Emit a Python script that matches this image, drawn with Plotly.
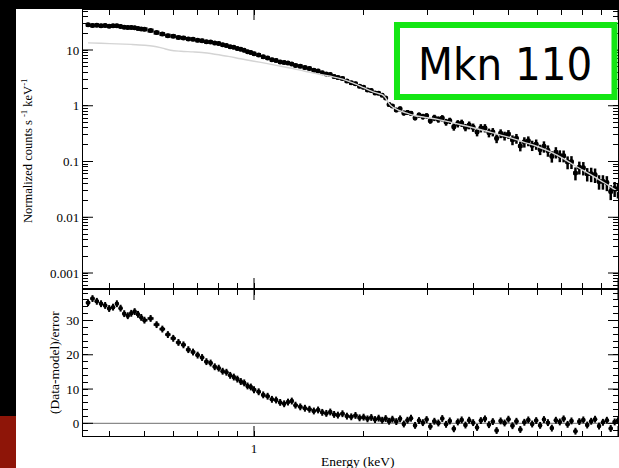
import numpy as np
import plotly.graph_objects as go

# Channel energies (keV) of the grouped spectrum
energy_kev = [0.35, 0.36, 0.37, 0.38, 0.39, 0.40, 0.41, 0.42, 0.43, 0.44, 0.45, 0.46, 0.47, 0.48, 0.49, 0.50,
              0.52, 0.54, 0.56, 0.58, 0.60, 0.62, 0.64, 0.66, 0.68, 0.70, 0.72, 0.74, 0.76, 0.78, 0.80, 0.82,
              0.84, 0.86, 0.88, 0.90, 0.92, 0.94, 0.96, 0.98, 1.00,
              1.03, 1.06, 1.09, 1.12, 1.15, 1.18, 1.21, 1.24, 1.27, 1.30,
              1.34, 1.38, 1.42, 1.46, 1.50, 1.54, 1.58, 1.62, 1.66, 1.70,
              1.75, 1.80, 1.85, 1.90, 1.95, 2.00, 2.05, 2.10, 2.15, 2.20, 2.25, 2.30, 2.35, 2.40,
              2.46, 2.52, 2.58, 2.64, 2.70,
              2.77, 2.84, 2.91, 2.98, 3.05,
              3.13, 3.21, 3.29, 3.37, 3.45,
              3.54, 3.63, 3.72, 3.81, 3.90,
              4.00, 4.10, 4.20, 4.31, 4.42, 4.53, 4.64, 4.76, 4.88, 5.00,
              5.13, 5.26, 5.39, 5.53, 5.67, 5.81, 5.96, 6.11, 6.26, 6.42, 6.58, 6.75, 6.92, 7.09,
              7.27, 7.45, 7.64, 7.83, 8.03, 8.23, 8.44, 8.65, 8.87, 9.09, 9.32, 9.55, 9.79, 10.0]

# Normalized counts s^-1 keV^-1
counts = [28.3, 27.6, 27.9, 27.2, 27.5, 26.8, 27.1, 27.2, 26.5, 25.7, 25.4, 25.4, 25.0, 24.3, 23.8, 23.5,
          22.3, 20.5, 19.3, 18.1, 17.7, 16.8, 16.5, 15.8, 15.6, 14.9, 14.7, 14.0, 13.9, 13.3, 13.1, 12.4,
          12.0, 11.4, 11.2, 10.6, 10.35, 9.85, 9.30, 9.05, 8.58,
          8.14, 7.55, 7.21, 6.70, 6.50, 6.12, 5.99, 5.83, 5.60, 5.28,
          5.12, 4.84, 4.68, 4.33, 4.22, 3.90, 3.70, 3.63, 3.35, 3.21,
          3.09, 2.77, 2.58, 2.49, 2.24, 2.14, 1.92, 1.87, 1.69, 1.68, 1.55, 1.38, 1.05, 0.99,
          0.84, 0.88, 0.74, 0.76, 0.73,
          0.61, 0.68, 0.64, 0.66, 0.54,
          0.61, 0.57, 0.60, 0.51, 0.54,
          0.42, 0.48, 0.49, 0.41, 0.45,
          0.41, 0.34, 0.40, 0.40, 0.33, 0.34, 0.26, 0.32, 0.29, 0.31,
          0.245, 0.26, 0.19, 0.225, 0.235, 0.195, 0.205, 0.165, 0.187, 0.158, 0.124, 0.147, 0.128, 0.127,
          0.098, 0.099, 0.062, 0.079, 0.077, 0.060, 0.060, 0.058, 0.044, 0.044, 0.042, 0.029, 0.033, 0.031]

# Fractional 1-sigma uncertainty of each channel
rel_err = [0.012, 0.012, 0.012, 0.012, 0.012, 0.012, 0.012, 0.012, 0.012, 0.012, 0.012, 0.012, 0.012, 0.012, 0.012, 0.012,
           0.015, 0.015, 0.015, 0.015, 0.015, 0.015, 0.015, 0.015, 0.015, 0.015, 0.018, 0.018, 0.018, 0.018, 0.018, 0.018,
           0.018, 0.018, 0.018, 0.018, 0.020, 0.020, 0.020, 0.020, 0.020,
           0.025, 0.025, 0.025, 0.025, 0.025, 0.025, 0.025, 0.025, 0.025, 0.025,
           0.030, 0.030, 0.030, 0.030, 0.032, 0.032, 0.034, 0.034, 0.035, 0.035,
           0.040, 0.040, 0.042, 0.042, 0.044, 0.045, 0.046, 0.047, 0.048, 0.048, 0.050, 0.050, 0.060, 0.070,
           0.09, 0.10, 0.10, 0.10, 0.10,
           0.11, 0.11, 0.12, 0.11, 0.12,
           0.13, 0.13, 0.13, 0.14, 0.13,
           0.15, 0.15, 0.15, 0.15, 0.16,
           0.17, 0.17, 0.17, 0.17, 0.18, 0.17, 0.18, 0.18, 0.18, 0.18,
           0.20, 0.20, 0.20, 0.21, 0.20, 0.21, 0.21, 0.21, 0.23, 0.23, 0.23, 0.23, 0.24, 0.24,
           0.26, 0.26, 0.26, 0.26, 0.27, 0.27, 0.29, 0.29, 0.29, 0.29, 0.30, 0.30, 0.30, 0.30]

# Best-fitting model curve
model_energy = [0.35, 0.38, 0.42, 0.46, 0.50, 0.53, 0.56, 0.59, 0.63, 0.68, 0.72, 0.78, 0.85, 0.92, 1.0,
                1.08, 1.17, 1.27, 1.38, 1.5, 1.62, 1.75, 1.88, 2.0, 2.1, 2.18, 2.25, 2.29, 2.33, 2.37,
                2.42, 2.5, 2.6, 2.75, 2.95, 3.2, 3.5, 3.8, 4.1, 4.5, 5.0, 5.5, 6.0, 6.5, 7.0, 7.5,
                8.0, 8.5, 9.0, 9.5, 10.0]
model_counts = [13.4, 13.2, 12.9, 12.6, 12.2, 11.7, 10.8, 9.9, 9.5, 9.25, 9.0, 8.4, 7.7, 6.95, 6.3,
                5.75, 5.2, 4.7, 4.15, 3.72, 3.38, 3.01, 2.51, 2.11, 1.83, 1.68, 1.58, 1.43, 1.19, 1.02,
                0.92, 0.83, 0.755, 0.67, 0.62, 0.57, 0.497, 0.437, 0.387, 0.329, 0.274, 0.223, 0.186, 0.150, 0.117, 0.0892,
                0.0700, 0.0558, 0.0446, 0.0359, 0.0288]

# (Data - model) / error
residual = [35.2, 36.4, 35.6, 34.9, 34.4, 33.5, 33.9, 34.9, 33.6, 32.0, 31.4, 32.1, 32.6, 31.8, 30.9, 30.1,
            30.6, 28.8, 27.5, 25.9, 24.8, 23.6, 22.9, 21.5, 20.8, 19.9, 19.2, 18.0, 17.6, 16.5, 16.1, 15.2,
            14.9, 14.0, 13.5, 12.9, 12.2, 11.8, 10.9, 10.6, 9.8,
            9.2, 8.3, 7.9, 7.0, 6.8, 6.1, 5.7, 6.2, 6.5, 5.3,
            4.8, 4.4, 4.1, 3.6, 3.9, 3.2, 2.9, 3.3, 2.6, 2.4,
            2.8, 2.1, 1.9, 2.3, 1.6, 1.8, 1.3, 1.7, 1.1, 1.5, 0.9, 1.4, 0.6, 1.2,
            0.5, 1.3, -0.2, 0.9, 1.5,
            -0.6, 0.8, 0.2, 1.1, -0.9,
            0.6, 0.1, 1.4, -0.3, 0.7,
            -1.6, 0.4, 1.0, -0.5, 0.9,
            0.2, -1.2, 0.8, 1.3, -0.4, 0.5, -2.1, 0.7, 0.1, 1.2,
            -0.7, 0.6, -1.8, 0.3, 1.0, -0.2, 0.8, -0.6, 1.1, 0.2, -1.4, 0.9, 0.4, 1.3,
            -0.3, 0.7, -2.3, 0.5, 1.0, -0.5, 0.6, 1.2, -0.8, 0.3, 0.9, -1.5, 0.4, 0.8]

# Labelled (major) tick values
energy_major = [1, 10]
counts_major = [0.001, 0.01, 0.1, 1, 10]
resid_major = [0, 10, 20, 30]

assert len(energy_kev) == len(counts) == len(rel_err) == len(residual)

# minor tick positions: 2..9 within each decade, every 2 for residuals
log_minor_pos = [m * 10.0 ** k for k in range(-4, 2) for m in range(2, 10)]
resid_minor_pos = [v for v in range(-2, 39, 2) if v not in resid_major]


def tick_set(major, minor, labels=True):
    vals = sorted(list(major) + list(minor))
    text = [(f"{v:g}" if (labels and v in major) else "") for v in vals]
    return vals, text


e = np.array(energy_kev)
c = np.array(counts)
# channel half-widths from the geometric mid-points between neighbouring channels
mids = np.sqrt(e[1:] * e[:-1])
lo_edge = np.concatenate([[e[0] ** 2 / mids[0]], mids])
hi_edge = np.concatenate([mids, [e[-1] ** 2 / mids[-1]]])
xerr_minus = e - lo_edge
xerr_plus = hi_edge - e
yerr = c * np.array(rel_err)

SERIF = "Liberation Serif, Times New Roman, serif"
TICKFONT = dict(family=SERIF, size=13, color="#000000")

fig = go.Figure()

fig.add_trace(go.Scatter(
    x=e, y=c, mode="markers", xaxis="x", yaxis="y",
    marker=dict(color="black", size=5, line=dict(width=0)),
    error_x=dict(type="data", symmetric=False, array=xerr_plus, arrayminus=xerr_minus,
                 color="black", thickness=4, width=0),
    error_y=dict(type="data", array=yerr, color="black", thickness=2.5, width=0),
    hoverinfo="skip"))

fig.add_trace(go.Scatter(
    x=model_energy, y=model_counts, mode="lines", xaxis="x", yaxis="y", line_shape="spline",
    line=dict(color="#d4d4d4", width=1.4), hoverinfo="skip"))

fig.add_trace(go.Scatter(
    x=e, y=residual, mode="markers", xaxis="x2", yaxis="y2",
    marker=dict(color="black", size=4.5, line=dict(width=0)),
    error_x=dict(type="data", symmetric=False, array=xerr_plus, arrayminus=xerr_minus,
                 color="black", thickness=2.5, width=0),
    error_y=dict(type="constant", value=1, color="black", thickness=2, width=0),
    hoverinfo="skip"))

x_range = [np.log10(0.339), 1.0]
y_range = [-3.269, 1.7175]
r_range = [-3.7, 38.9]
TOP = [0.3474, 1.0]
BOT = [0, 0.3427]
PLOT_W, PLOT_H = 535, 426
MINOR_LEN, MAJOR_LEN = 5, 10

frame = dict(showline=True, linecolor="black", linewidth=1.2, mirror="ticks",
             ticks="inside", ticklen=MINOR_LEN, tickwidth=1, tickcolor="black", tickmode="array",
             showgrid=False, zeroline=False, tickfont=TICKFONT)

xv_top, xt_top = tick_set(energy_major, log_minor_pos, labels=False)
xv_bot, xt_bot = tick_set(energy_major, log_minor_pos)
yv_top, yt_top = tick_set(counts_major, log_minor_pos)
yv_bot, yt_bot = tick_set(resid_major, resid_minor_pos)

fig.update_layout(
    template="none",
    width=619, height=468,
    margin=dict(l=83, r=1, t=10, b=32),
    paper_bgcolor="white", plot_bgcolor="white",
    showlegend=False,
    xaxis=dict(frame, type="log", range=x_range, domain=[0, 1], anchor="y",
               tickvals=xv_top, ticktext=xt_top, showticklabels=False),
    yaxis=dict(frame, type="log", range=y_range, domain=TOP, anchor="x",
               tickvals=yv_top, ticktext=yt_top),
    xaxis2=dict(frame, type="log", range=x_range, domain=[0, 1], anchor="y2",
                tickvals=xv_bot, ticktext=xt_bot),
    yaxis2=dict(frame, range=r_range, domain=BOT, anchor="x2",
                tickvals=yv_bot, ticktext=yt_bot),
)

# lengthen the labelled ticks on every side of both panels
tick_line = dict(color="black", width=1)
for xa, ya, dom in (("x", "y", TOP), ("x2", "y2", BOT)):
    h = (dom[1] - dom[0]) * PLOT_H
    for v in energy_major:
        for y0, y1 in ((0, MAJOR_LEN / h), (1, 1 - MAJOR_LEN / h)):
            fig.add_shape(type="line", xref=xa, yref=f"{ya} domain", x0=v, x1=v, y0=y0, y1=y1,
                          line=tick_line, layer="above")
    for v in (counts_major if ya == "y" else resid_major):
        for x0, x1 in ((0, MAJOR_LEN / PLOT_W), (1, 1 - MAJOR_LEN / PLOT_W)):
            fig.add_shape(type="line", xref=f"{xa} domain", yref=ya, x0=x0, x1=x1, y0=v, y1=v,
                          line=tick_line, layer="above")

# zero level of the residuals
fig.add_shape(type="line", xref="x2 domain", yref="y2", x0=0, x1=1, y0=0, y1=0,
              line=dict(color="#8a8a8a", width=1.2), layer="below")

# slide frame: dark top band, dark left strip with red foot
fig.add_shape(type="rect", xref="paper", yref="paper", x0=-0.2, x1=1.05, y0=1.00235, y1=1.06,
              fillcolor="black", line=dict(width=0), layer="above")
fig.add_shape(type="rect", xref="paper", yref="paper", x0=-0.2, x1=-0.12523, y0=0.04695, y1=1.06,
              fillcolor="black", line=dict(width=0), layer="above")
fig.add_shape(type="rect", xref="paper", yref="paper", x0=-0.2, x1=-0.12523, y0=-0.1, y1=0.04695,
              fillcolor="#8e1508", line=dict(width=0), layer="above")

# source label box
fig.add_shape(type="rect", xref="paper", yref="paper", x0=0.5869, x1=0.99346, y0=0.7958, y1=0.9648,
              fillcolor="white", line=dict(color="#14e614", width=6), layer="above")
fig.add_annotation(text="Mkn 110", xref="paper", yref="paper", x=0.7897, y=0.8709,
                   xanchor="center", yanchor="middle", showarrow=False,
                   font=dict(family="DejaVu Sans Condensed, DejaVu Sans, sans-serif", size=45, color="black"))

# axis titles
fig.add_annotation(text="Normalized counts s <sup>-1</sup> keV<sup>-1</sup>", xref="paper", yref="paper",
                   x=-0.1047, y=0.669, textangle=-90, showarrow=False,
                   xanchor="center", yanchor="middle",
                   font=dict(family=SERIF, size=12.5, color="black"))
fig.add_annotation(text="(Data-model)/error", xref="paper", yref="paper",
                   x=-0.0523, y=0.1714, textangle=-90, showarrow=False,
                   xanchor="center", yanchor="middle",
                   font=dict(family=SERIF, size=13.5, color="black"))
fig.add_annotation(text="Energy (keV)", xref="paper", yref="paper",
                   x=0.514, y=-0.0587, showarrow=False,
                   xanchor="center", yanchor="middle",
                   font=dict(family=SERIF, size=13.5, color="black"))

fig.write_html("out.html")
